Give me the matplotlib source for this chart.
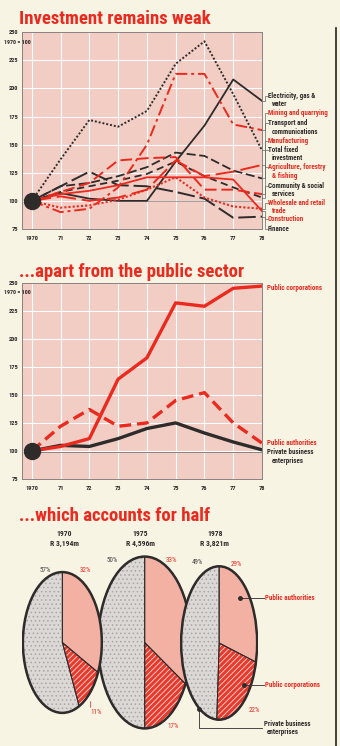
import matplotlib
matplotlib.use('Agg')
import matplotlib.pyplot as plt
from matplotlib import font_manager
from matplotlib.patches import Circle

# fonts: pick a condensed family if one is installed
names = {f.name for f in font_manager.fontManager.ttflist}
NARROW = 'DejaVu Sans'
for cand in ['Roboto Condensed', 'Liberation Sans Narrow', 'Open Sans Condensed']:
    if cand in names:
        NARROW = cand
        break
plt.rcParams['font.family'] = [NARROW, 'DejaVu Sans']
plt.rcParams['hatch.linewidth'] = 0.6

PAGE = '#f8f4e4'
PLOT = '#f1cdc3'
RED = '#ea2a1f'
BLACK = '#2e2b2b'

W, H = 340, 746

# ---- data -------------------------------------------------------------
years = [1970, 1971, 1972, 1973, 1974, 1975, 1976, 1977, 1978]
year_labels = ['1970', '71', '72', '73', '74', '75', '76', '77', '78']
y_ticks = [75, 100, 125, 150, 175, 200, 225, 250]

# chart 1: investment by sector, 1970 = 100
electricity = [100, 107, 102, 100, 100, 135, 167, 208, 189]
mining = [100, 90, 93, 112, 150, 213, 213, 168, 163]
transport = [100, 137, 172, 166, 180, 222, 242, 195, 145]
manufacturing = [100, 108, 116, 136, 138, 139, 110, 110, 106]
total_fixed = [100, 113, 116, 122, 130, 143, 140, 127, 120]
agriculture = [100, 104, 100, 103, 110, 136, 122, 126, 132]
community = [100, 108, 113, 118, 124, 135, 122, 112, 103]
wholesale = [100, 94, 96, 101, 110, 121, 103, 95, 93]
construction = [100, 106, 109, 114, 121, 121, 121, 119, 91]
finance = [100, 113, 126, 114, 113, 108, 102, 85, 86]

# chart 2: public vs private
public_corp = [100, 104, 111, 164, 183, 232, 229, 245, 247]
public_auth = [100, 122, 137, 122, 125, 145, 152, 125, 107]
private_bus = [100, 105, 104, 111, 120, 125, 116, 108, 101]

# pies: shares (%) public authorities, public corporations, private
pie_years = ['1970', '1975', '1978']
pie_totals = ['R 3,194m', 'R 4,596m', 'R 3,821m']
pie_auth = [32, 33, 29]
pie_corp = [11, 17, 22]
pie_priv = [57, 50, 49]

fig = plt.figure(figsize=(W / 100, H / 100), dpi=100)
fig.patch.set_facecolor(PAGE)


def frac_box(x0, y0, x1, y1):
    # pixel box (top-left origin) -> figure fraction rect
    return [x0 / W, 1 - y1 / H, (x1 - x0) / W, (y1 - y0) / H]


def line_axes(box):
    ax = fig.add_axes(frac_box(*box))
    ax.set_facecolor(PLOT)
    ax.set_xlim(1969.66, 1978)
    ax.set_ylim(75, 250)
    ax.set_xticks(years)
    ax.set_xticklabels(year_labels, fontsize=4.6, fontweight='bold', color=BLACK)
    ax.set_yticks(y_ticks)
    ax.set_yticklabels([str(v) for v in y_ticks], fontsize=4.6, fontweight='bold', color=BLACK)
    ax.tick_params(length=0, pad=5)
    ax.tick_params(axis='y', pad=3)
    ax.grid(color='white', lw=0.8)
    ax.set_axisbelow(True)
    for s in ax.spines.values():
        s.set_color('#8a8080')
        s.set_linewidth(0.7)
    return ax


# ---- chart 1 ----------------------------------------------------------
ax1 = line_axes((22, 32.3, 262, 229))
ax1.plot([1974, 1977.7], [99.5, 99.5], color='#777', lw=0.5)
ax1.plot(years, transport, color=BLACK, lw=1.4, ls=(0, (1, 1)))
ax1.plot(years, total_fixed, color=BLACK, lw=1.3, ls=(0, (5, 2)))
ax1.plot(years, community, color=BLACK, lw=1.3, ls=(0, (4, 2.5)))
ax1.plot(years, finance, color=BLACK, lw=1.4, ls=(0, (9, 2.5)))
ax1.plot(years, electricity, color=BLACK, lw=1.3)
ax1.plot(years, mining, color=RED, lw=1.4, ls=(0, (6, 2, 1.5, 2)))
ax1.plot(years, manufacturing, color=RED, lw=1.4, ls=(0, (6, 2.5)))
ax1.plot(years, agriculture, color=RED, lw=1.4, ls=(0, (10, 3)))
ax1.plot(years, wholesale, color=RED, lw=1.5, ls=(0, (1, 1)))
ax1.plot(years, construction, color=RED, lw=1.3)
ax1.plot([1970], [100], 'o', ms=11.5, color=BLACK, zorder=6, clip_on=False)

# ---- chart 2 ----------------------------------------------------------
ax2 = line_axes((22, 282.7, 262, 479))
ax2.plot([1970, 1978], [99.5, 99.5], color='#777', lw=0.6)
ax2.plot(years, private_bus, color=BLACK, lw=2.4)
ax2.plot(years, public_auth, color=RED, lw=2.4, ls=(0, (3.5, 1.8)))
ax2.plot(years, public_corp, color=RED, lw=2.4)
ax2.plot([1970], [100], 'o', ms=11.5, color=BLACK, zorder=6, clip_on=False)

# ---- pies -------------------------------------------------------------
pie_boxes = [(21.7, 570, 103, 715), (96.7, 554, 192.7, 731), (180, 564, 258.3, 722)]
pie_z = [3, 1, 2]
fills = [('#f3b1a3', '#f7cbc1', ''), ('#e8392c', '#fbe0da', '//////'),
         ('#dcd8d6', '#a9a5a5', '....')]
for i in range(3):
    axp = fig.add_axes(frac_box(*pie_boxes[i]), zorder=pie_z[i])
    axp.set_facecolor('none')
    vals = [pie_auth[i], pie_corp[i], pie_priv[i]]
    wedges, _ = axp.pie(vals, startangle=90, counterclock=False, radius=1)
    for w, (fc, hc, hatch) in zip(wedges, fills):
        w.set_facecolor(fc)
        w.set_edgecolor(hc)
        w.set_hatch(hatch)
        w.set_linewidth(0)
    outline, _ = axp.pie(vals, startangle=90, counterclock=False, radius=1,
                         wedgeprops=dict(facecolor='none', edgecolor=BLACK, lw=0.7))
    axp.add_patch(Circle((0, 0), 1, facecolor='none', edgecolor=BLACK, lw=1.8))
    axp.set_aspect('auto')
    axp.set_xlim(-1.03, 1.03)
    axp.set_ylim(-1.03, 1.03)
    axp.axis('off')

# ---- overlay for titles, labels, leaders ------------------------------
ov = fig.add_axes([0, 0, 1, 1], zorder=20)
ov.set_xlim(0, W)
ov.set_ylim(H, 0)
ov.axis('off')
ov.patch.set_alpha(0)

title_kw = dict(color=RED, fontweight='heavy', fontsize=13.5, va='baseline', ha='left')
ov.text(19, 24, 'Investment remains weak', **title_kw)
ov.text(19, 277, '...apart from the public sector', **title_kw)
ov.text(19, 521, '...which accounts for half', **title_kw)

for yy in (42.7, 293):
    ov.text(4, yy, '1970 = 100', fontsize=4.3, fontweight='bold', color=BLACK, va='center')

ov.plot([336, 336], [28, 746], color='#222', lw=1.2)

# right-hand labels chart 1: (lines, colour, label y, end value)
labels1 = [(['Electricity, gas &', 'water'], BLACK, 96, electricity[-1]),
           (['Mining and quarrying'], RED, 113.3, mining[-1]),
           (['Transport and', 'communications'], BLACK, 123.3, transport[-1]),
           (['Manufacturing'], RED, 140.7, manufacturing[-1]),
           (['Total fixed', 'investment'], BLACK, 150, total_fixed[-1]),
           (['Agriculture, forestry', '& fishing'], RED, 167.3, agriculture[-1]),
           (['Community & social', 'services'], BLACK, 186, community[-1]),
           (['Wholesale and retail', 'trade'], RED, 202.7, wholesale[-1]),
           (['Construction'], RED, 219.3, construction[-1]),
           (['Finance'], BLACK, 229, finance[-1])]
for lines, col, ylab, vend in labels1:
    yend = 32.3 + (250 - vend) * (229 - 32.3) / 175
    ov.plot([262, 265, 265, 267.5], [yend, yend, ylab, ylab], color='#666', lw=0.5)
    for k, t in enumerate(lines):
        ov.text(268 if k == 0 else 272, ylab + k * 8.2, t, fontsize=5, fontweight='bold',
                color=col, va='center')

ov.text(267, 288.3, 'Public corporations', fontsize=5, fontweight='bold', color=RED, va='center')
ov.text(267, 442.7, 'Public authorities', fontsize=5, fontweight='bold', color=RED, va='center')
ov.text(267, 452.3, 'Private business', fontsize=5, fontweight='bold', color=BLACK, va='center')
ov.text(272, 461, 'enterprises', fontsize=5, fontweight='bold', color=BLACK, va='center')

# pie headings and percentages
heads_x = [64, 140, 215]
for i in range(3):
    ov.text(heads_x[i], 533, pie_years[i], fontsize=5.5, fontweight='bold', color=BLACK,
            ha='center', va='center')
    ov.text(heads_x[i], 543.5, pie_totals[i], fontsize=5.5, fontweight='bold', color=BLACK,
            ha='center', va='center')
priv_pos = [(45, 571), (112, 560), (197, 563)]
auth_pos = [(85, 571), (171, 561), (236, 564)]
corp_pos = [(96, 712), (173, 726), (254, 710)]
for i in range(3):
    ov.text(*priv_pos[i], f'{pie_priv[i]}%', fontsize=5, color='#444', ha='center', va='center')
    ov.text(*auth_pos[i], f'{pie_auth[i]}%', fontsize=5, color=RED, ha='center', va='center')
    ov.text(*corp_pos[i], f'{pie_corp[i]}%', fontsize=5, color=RED, ha='center', va='center')
ov.plot([90, 90], [701, 707], color=RED, lw=0.5)

# pie callouts
ov.plot([240, 264], [598, 598], color=BLACK, lw=0.6)
ov.plot([240], [598], 'o', ms=2.5, color=BLACK)
ov.text(265, 598, 'Public authorities', fontsize=5, fontweight='bold', color=RED, va='center')
ov.plot([244, 264], [685, 685], color=BLACK, lw=0.6)
ov.plot([244], [685], 'o', ms=2.5, color=BLACK)
ov.text(265, 685, 'Public corporations', fontsize=5, fontweight='bold', color=RED, va='center')
ov.plot([199, 199, 262], [709, 728, 728], color=BLACK, lw=0.6)
ov.plot([199], [709], 'o', ms=2.5, color=BLACK)
ov.text(264, 724, 'Private business', fontsize=5, fontweight='bold', color=BLACK, va='center')
ov.text(267, 732, 'enterprises', fontsize=5, fontweight='bold', color=BLACK, va='center')

fig.savefig('out.png', dpi=100, facecolor=PAGE)
